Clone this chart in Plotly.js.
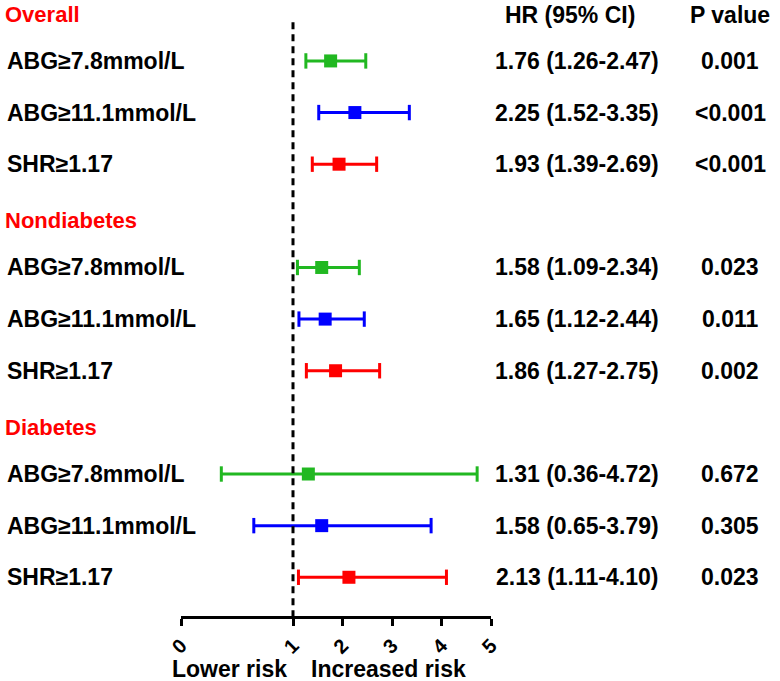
<!DOCTYPE html>
<html>
<head>
<meta charset="utf-8">
<script src="https://cdn.plot.ly/plotly-3.0.1.min.js"></script>
<style>html,body{margin:0;padding:0;background:#fff;}#chart{width:780px;height:681px;}</style>
</head>
<body>
<div id="chart"></div>
<script>
// ---- data ----
const groups = ['Overall', 'Nondiabetes', 'Diabetes'];
const labels = ['ABG≥7.8mmol/L', 'ABG≥11.1mmol/L', 'SHR≥1.17',
                'ABG≥7.8mmol/L', 'ABG≥11.1mmol/L', 'SHR≥1.17',
                'ABG≥7.8mmol/L', 'ABG≥11.1mmol/L', 'SHR≥1.17'];
const hr = [1.76, 2.25, 1.93, 1.58, 1.65, 1.86, 1.31, 1.58, 2.13];
const lo = [1.26, 1.52, 1.39, 1.09, 1.12, 1.27, 0.36, 0.65, 1.11];
const hi = [2.47, 3.35, 2.69, 2.34, 2.44, 2.75, 4.72, 3.79, 4.10];
const pvals = ['0.001', '<0.001', '<0.001', '0.023', '0.011', '0.002', '0.672', '0.305', '0.023'];
const colorsByRow = ['#21b821', '#0000ff', '#ff0000', '#21b821', '#0000ff', '#ff0000', '#21b821', '#0000ff', '#ff0000'];
const ticksLow = [0, 1];
const ticksHigh = [2, 3, 4, 5];

// ---- layout helpers ----
const W = 780, H = 681;
const FONT = 'Liberation Sans, Arial, sans-serif';
const FS = 23;
// slot positions: header, 3 rows, header, 3 rows, header, 3 rows
const rowSlot = [];
const headerSlot = [];
groups.forEach((g, gi) => {
  headerSlot.push(gi * 4);
  for (let k = 1; k <= 3; k++) rowSlot.push(gi * 4 + k);
});
const px = v => v / W;

const traces = [];
['x', 'x2'].forEach(ax => {
  for (let i = 0; i < hr.length; i++) {
    traces.push({
      type: 'scatter', mode: 'lines+markers', xaxis: ax, yaxis: 'y',
      x: [lo[i], hi[i]], y: [rowSlot[i], rowSlot[i]],
      line: {color: colorsByRow[i], width: 3},
      marker: {symbol: 'line-ns', size: 11, line: {color: colorsByRow[i], width: 3}},
      hoverinfo: 'skip', showlegend: false
    });
  }
});
for (let i = 0; i < hr.length; i++) {
  traces.push({
    type: 'scatter', mode: 'markers', xaxis: 'x2', yaxis: 'y',
    x: [hr[i]], y: [rowSlot[i]],
    marker: {symbol: 'square', size: 13, color: colorsByRow[i]},
    hoverinfo: 'skip', showlegend: false
  });
}

const annotations = [];
groups.forEach((g, gi) => {
  annotations.push({xref: 'paper', yref: 'y', x: px(3), y: headerSlot[gi], xanchor: 'left', yanchor: 'middle',
    yshift: -5, text: '<b>' + g + '</b>', showarrow: false, font: {family: FONT, size: 22, color: '#ff0000'}});
});
for (let i = 0; i < hr.length; i++) {
  annotations.push({xref: 'paper', yref: 'y', x: px(5), y: rowSlot[i], xanchor: 'left', yanchor: 'middle',
    text: '<b>' + labels[i] + '</b>', showarrow: false, font: {family: FONT, size: FS, color: '#000'}});
  annotations.push({xref: 'paper', yref: 'y', x: px(577), y: rowSlot[i], xanchor: 'center', yanchor: 'middle',
    text: '<b>' + hr[i].toFixed(2) + ' (' + lo[i].toFixed(2) + '-' + hi[i].toFixed(2) + ')</b>', showarrow: false,
    font: {family: FONT, size: FS, color: '#000'}});
  annotations.push({xref: 'paper', yref: 'y', x: px(730), y: rowSlot[i], xanchor: 'center', yanchor: 'middle',
    text: '<b>' + pvals[i] + '</b>', showarrow: false, font: {family: FONT, size: FS, color: '#000'}});
}
annotations.push({xref: 'paper', yref: 'y', x: px(570), y: 0, xanchor: 'center', yanchor: 'middle', yshift: -6,
  text: '<b>HR (95% CI)</b>', showarrow: false, font: {family: FONT, size: FS, color: '#000'}});
annotations.push({xref: 'paper', yref: 'y', x: px(730), y: 0, xanchor: 'center', yanchor: 'middle', yshift: -6,
  text: '<b>P value</b>', showarrow: false, font: {family: FONT, size: FS, color: '#000'}});
annotations.push({xref: 'x domain', yref: 'paper', x: 0.43, y: -0.086, xanchor: 'center', yanchor: 'middle',
  text: '<b>Lower risk</b>', showarrow: false, font: {family: FONT, size: FS, color: '#000'}});
annotations.push({xref: 'x2 domain', yref: 'paper', x: 0.48, y: -0.086, xanchor: 'center', yanchor: 'middle',
  text: '<b>Increased risk</b>', showarrow: false, font: {family: FONT, size: FS, color: '#000'}});

const axCommon = {
  showline: true, linecolor: '#000', linewidth: 3, ticks: 'outside', ticklen: 7, tickwidth: 3, tickcolor: '#000',
  showgrid: false, zeroline: false, tickangle: -45, tickmode: 'array', fixedrange: true,
  tickfont: {family: FONT, size: 20, color: '#000', weight: 'bold'}, anchor: 'y'
};

const layout = {
  width: W, height: H,
  margin: {l: 0, r: 0, t: 0, b: 65},
  paper_bgcolor: '#fff', plot_bgcolor: '#fff',
  showlegend: false,
  xaxis: Object.assign({}, axCommon, {domain: [px(181), px(293)], range: [0, 1], tickvals: ticksLow}),
  xaxis2: Object.assign({}, axCommon, {domain: [px(293), px(491)], range: [1, 5], tickvals: ticksHigh}),
  yaxis: {range: [11.75, -0.18], visible: false, fixedrange: true},
  shapes: [{type: 'line', xref: 'x domain', yref: 'y', x0: 1, x1: 1, y0: 0.25, y1: 11.75, layer: 'above',
    line: {color: '#000', width: 3, dash: '7px,5px'}}],
  annotations: annotations
};

Plotly.newPlot('chart', traces, layout, {displayModeBar: false, staticPlot: true});
</script>
</body>
</html>
